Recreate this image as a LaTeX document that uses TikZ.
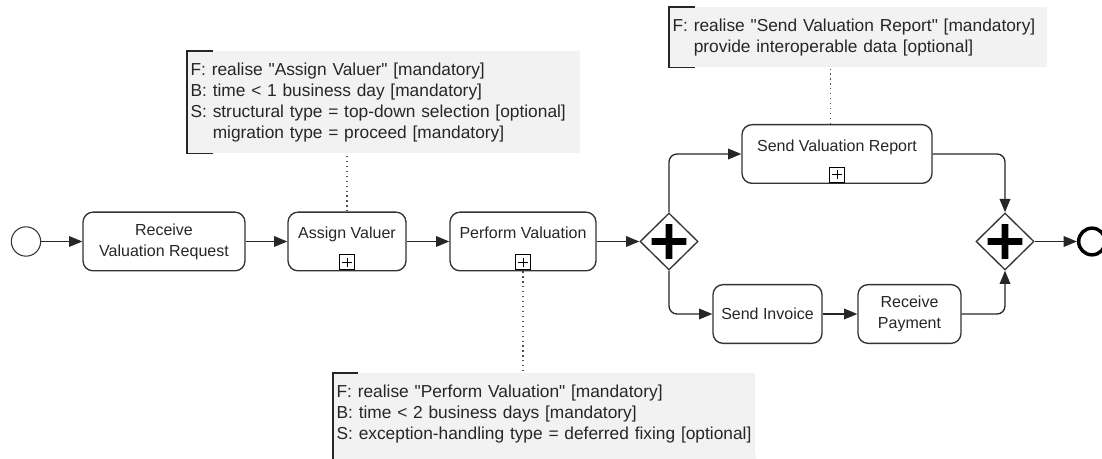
\documentclass[tikz,border=0pt]{standalone}
\usepackage{fontspec}
\setmainfont{Liberation Sans}[Ligatures=TeXOff]
\usetikzlibrary{arrows.meta}
\usetikzlibrary{shapes.geometric}
\usetikzlibrary{positioning}

\begin{document}
\begin{tikzpicture}[x=0.75pt,y=-0.75pt,
  every node/.style={font=\fontsize{12}{15.75}\selectfont, text=black!85},
  box/.style={draw=black!80, line width=1pt, rounded corners=7.5pt, inner sep=0pt, minimum height=44pt},
  task/.style={box, align=center},
  subtask/.style={box, text depth=13pt},
  submark/.style={draw=black, line width=0.8pt, minimum size=11pt, inner sep=0pt,
    path picture={\draw[line width=0.6pt] ([yshift=-2pt]path picture bounding box.north) -- ([yshift=2pt]path picture bounding box.south)
      ([xshift=2pt]path picture bounding box.west) -- ([xshift=-2pt]path picture bounding box.east);}},
  gateway/.style={diamond, draw=black!80, line width=1pt, minimum width=43.5pt, minimum height=42.75pt, inner sep=0pt,
    path picture={\fill[black] (path picture bounding box.center) +(-13pt,-2.6pt) rectangle +(13pt,2.6pt)
      (path picture bounding box.center) +(-2.6pt,-13pt) rectangle +(2.6pt,13pt);}},
  startev/.style={circle, draw=black!80, line width=0.8pt, minimum size=22pt, inner sep=0pt},
  endev/.style={circle, draw=black, line width=2.6pt, minimum size=20pt, inner sep=0pt},
  flow/.style={draw=black!85, line width=1pt, rounded corners=6pt, -{Triangle[length=10pt,width=8pt]}},
  note/.style={fill=black!5, anchor=north west, align=left, inner xsep=2.5pt, inner ysep=8.5pt,
    font=\fontsize{13}{15.75}\selectfont},
  bracket/.style={draw=black!85, line width=1pt},
  assoc/.style={draw=black!70, line width=0.9pt, dash pattern=on 0.9pt off 2.8pt}]
\useasboundingbox (0,0) rectangle (1102,459);

\node[startev] (start) at (26,241.5) {};
\node[task, minimum width=121.5pt] (recv) at (164,241.5) {Receive\\Valuation Request};
\node[subtask, minimum width=88.5pt] (assign) at (347,241.5) {Assign Valuer};
\node[subtask, minimum width=109.5pt] (perform) at (523,241.5) {Perform Valuation};
\node[gateway] (split) at (669,241.5) {};
\node[subtask, minimum width=142.5pt] (report) at (837,154) {Send Valuation Report};
\node[task, minimum width=81.75pt] (invoice) at (767.5,314) {Send Invoice};
\node[task, minimum width=77.25pt] (payment) at (909.5,314) {Receive\\Payment};
\node[gateway] (join) at (1005,241.5) {};
\node[endev] (finish) at (1092,241.5) {};
\foreach \t in {assign,perform,report}
  \node[submark, anchor=south] (mark\t) at ([yshift=1pt]\t.south) {};

\draw[flow] (start) -- (recv);
\draw[flow] (recv) -- (assign);
\draw[flow] (assign) -- (perform);
\draw[flow] (perform) -- (split);
\draw[flow] (split.north) |- (report);
\draw[flow] (split.south) |- (invoice);
\draw[flow] (invoice) -- (payment);
\draw[flow] (report) -| (join.north);
\draw[flow] (payment) -| (join.south);
\draw[flow] (join) -- (finish);

\node[note, text width=289.75pt] (noteAssign) at (187,51)
  {F: realise "Assign Valuer" [mandatory]\\B: time < 1 business day [mandatory]\\S: structural type = top-down selection [optional]\\\phantom{S: }migration type = proceed [mandatory]};
\node[note, text width=278.5pt] (noteReport) at (669,7)
  {F: realise "Send Valuation Report" [mandatory]\\\phantom{F: }provide interoperable data [optional]};
\node[note, text width=311.5pt] (notePerform) at (333,373)
  {F: realise "Perform Valuation" [mandatory]\\B: time < 2 business days [mandatory]\\S: exception-handling type = deferred fixing [optional]};
\fill[black!5] (notePerform.south west) rectangle ([yshift=-40pt]notePerform.south east);

\draw[bracket] ([xshift=19.5pt]noteAssign.north west) -- (noteAssign.north west) -- (noteAssign.south west) -- ([xshift=19.5pt]noteAssign.south west);
\draw[bracket] ([xshift=19.5pt]noteReport.north west) -- (noteReport.north west) -- (noteReport.south west) -- ([xshift=19.5pt]noteReport.south west);
\draw[bracket] ([xshift=19pt]notePerform.north west) -- (notePerform.north west) -- ([yshift=-40pt]notePerform.south west);

\coordinate (reportTop) at ([xshift=-5pt]report.north);
\draw[assoc] (assign.north) -- (assign.north |- noteAssign.south);
\draw[assoc] (reportTop) -- (reportTop |- noteReport.south);
\draw[assoc] (perform.south) -- (perform.south |- notePerform.north);
\end{tikzpicture}
\end{document}
